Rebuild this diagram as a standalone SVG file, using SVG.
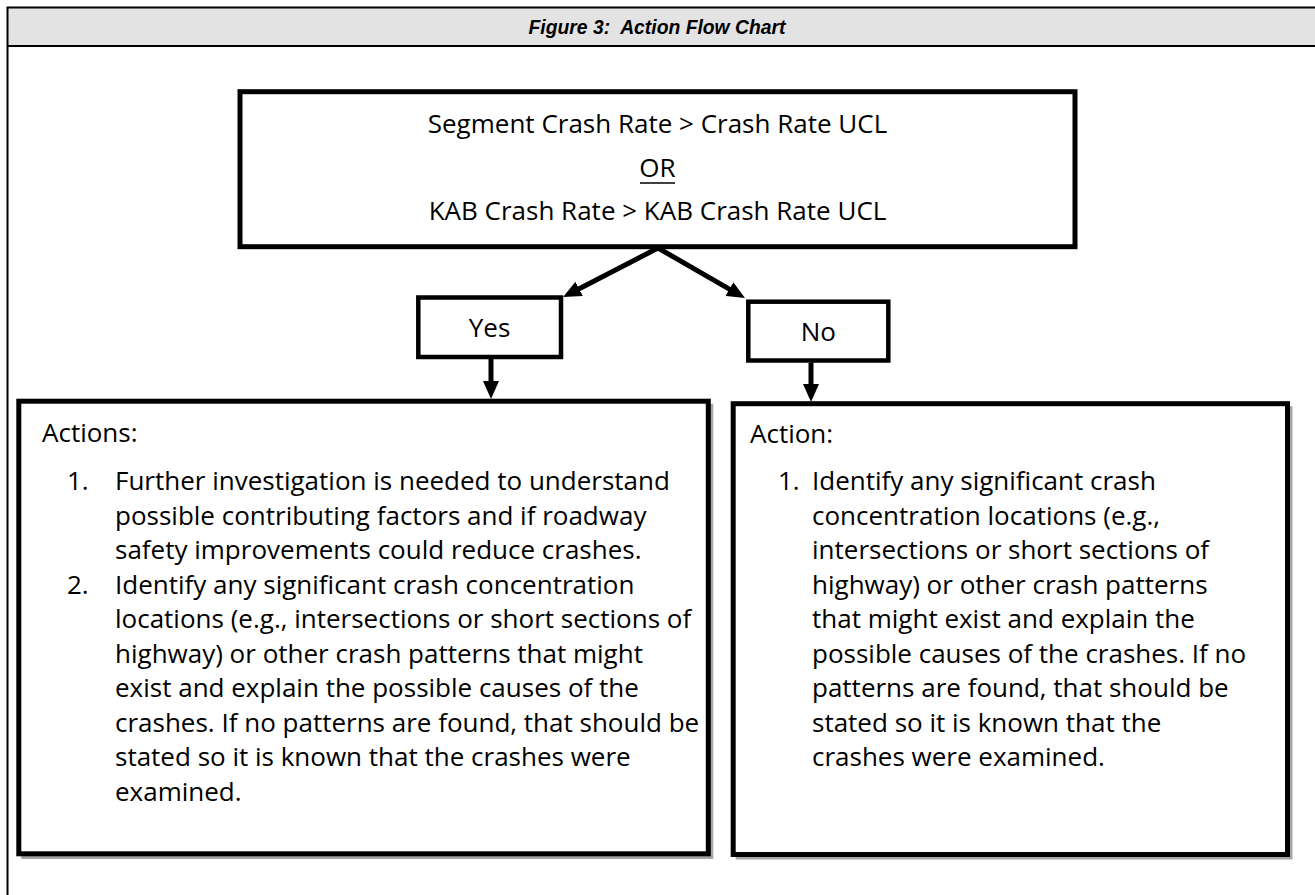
<svg xmlns="http://www.w3.org/2000/svg" width="1315" height="895" viewBox="0 0 1315 895">
  <style>
    .frame { fill: none; stroke: #000; stroke-width: 2; }
    .box { fill: #fff; stroke: #000; stroke-width: 5; }
    .sbox { fill: #fff; stroke: #000; stroke-width: 4.5; }
    .shadow { fill: none; stroke: #a6a6a6; stroke-width: 5; }
    .t { font-family: "Open Sans", "Liberation Sans", sans-serif; font-size: 26px; fill: #000; }
    .c { text-anchor: middle; }
    .title { font-family: "Liberation Sans", Arial, sans-serif; font-size: 21px; font-weight: bold; font-style: italic; text-anchor: middle; fill: #000; white-space: pre; }
    .conn { stroke: #000; stroke-width: 5; fill: none; }
  </style>
  <defs>
    <marker id="ah" viewBox="0 0 18 16" refX="8" refY="8" markerWidth="18" markerHeight="16" markerUnits="userSpaceOnUse" orient="auto">
      <path d="M0,0 L18,8 L0,16 z" fill="#000"/>
    </marker>
  </defs>

  <rect width="1315" height="895" fill="#fff"/>

  <g id="frame">
    <rect x="7.5" y="7.5" width="1310" height="38.5" fill="#e3e3e3"/>
    <path class="frame" d="M7.5,895 V7.5 H1316 M7.5,46 H1316"/>
    <text class="title" x="657" y="34" xml:space="preserve" textLength="257" lengthAdjust="spacingAndGlyphs">Figure 3:  Action Flow Chart</text>
  </g>

  <g id="condition">
    <rect class="box" x="240" y="91.7" width="835" height="155"/>
    <text class="t c" x="657.5" y="133">Segment Crash Rate &gt; Crash Rate UCL</text>
    <text class="t c" x="657.5" y="177">OR</text>
    <line x1="640" y1="183" x2="675" y2="183" stroke="#000" stroke-width="1.5"/>
    <text class="t c" x="657.5" y="220">KAB Crash Rate &gt; KAB Crash Rate UCL</text>
  </g>

  <g id="yes">
    <rect class="sbox" x="418.3" y="297.5" width="142.7" height="59.5"/>
    <text class="t c" x="489.6" y="337">Yes</text>
  </g>

  <g id="no">
    <rect class="sbox" x="748.3" y="301.7" width="140" height="58.8"/>
    <text class="t c" x="818.3" y="341">No</text>
  </g>

  <g id="yes-actions">
    <path class="shadow" d="M21.3,856.4 H710.8 V403.7"/>
    <rect class="box" x="18.8" y="401.2" width="689.5" height="452.6"/>
    <text class="t" x="42" y="442">Actions:</text>
    <text class="t" x="67" y="490">1.</text>
    <text class="t" x="115" y="490">Further investigation is needed to understand</text>
    <text class="t" x="115" y="524.5">possible contributing factors and if roadway</text>
    <text class="t" x="115" y="559">safety improvements could reduce crashes.</text>
    <text class="t" x="67" y="593.5">2.</text>
    <text class="t" x="115" y="593.5">Identify any significant crash concentration</text>
    <text class="t" x="115" y="628">locations (e.g., intersections or short sections of</text>
    <text class="t" x="115" y="662.5">highway) or other crash patterns that might</text>
    <text class="t" x="115" y="697">exist and explain the possible causes of the</text>
    <text class="t" x="115" y="731.5">crashes. If no patterns are found, that should be</text>
    <text class="t" x="115" y="766">stated so it is known that the crashes were</text>
    <text class="t" x="115" y="800.5">examined.</text>
  </g>

  <g id="no-actions">
    <path class="shadow" d="M735.7,857 H1290 V406.2"/>
    <rect class="box" x="733.2" y="403.7" width="554.3" height="450.8"/>
    <text class="t" x="750" y="443">Action:</text>
    <text class="t" x="778" y="490">1.</text>
    <text class="t" x="812" y="490">Identify any significant crash</text>
    <text class="t" x="812" y="524.5">concentration locations (e.g.,</text>
    <text class="t" x="812" y="559">intersections or short sections of</text>
    <text class="t" x="812" y="593.5">highway) or other crash patterns</text>
    <text class="t" x="812" y="628">that might exist and explain the</text>
    <text class="t" x="812" y="662.5">possible causes of the crashes. If no</text>
    <text class="t" x="812" y="697">patterns are found, that should be</text>
    <text class="t" x="812" y="731.5">stated so it is known that the</text>
    <text class="t" x="812" y="766">crashes were examined.</text>
  </g>

  <g id="connectors">
    <line class="conn" x1="658" y1="248" x2="572" y2="292.5" marker-end="url(#ah)"/>
    <line class="conn" x1="658" y1="248" x2="736.3" y2="293.1" marker-end="url(#ah)"/>
    <line class="conn" x1="491" y1="359" x2="491" y2="389" marker-end="url(#ah)"/>
    <line class="conn" x1="811" y1="362.5" x2="811" y2="392" marker-end="url(#ah)"/>
  </g>
</svg>
